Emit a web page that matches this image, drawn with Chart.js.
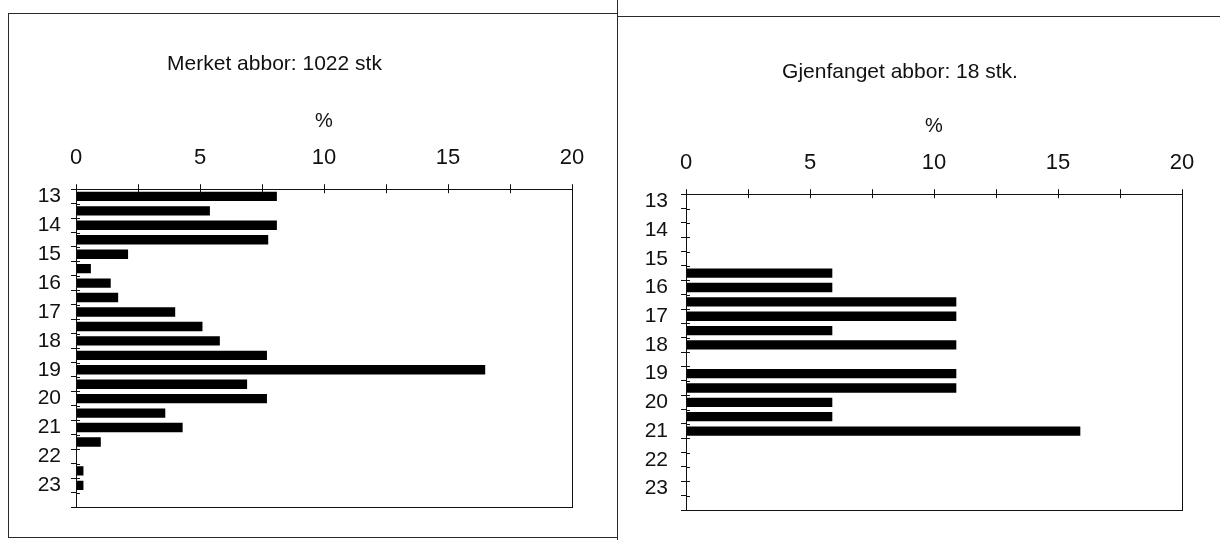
<!DOCTYPE html>
<html>
<head>
<meta charset="utf-8">
<script src="https://cdn.jsdelivr.net/npm/chart.js@4.4.1/dist/chart.umd.min.js"></script>
<style>
  body { margin: 0; background: #fff; width: 1220px; height: 540px; position: relative; overflow: hidden; }
  .line { position: absolute; background: #2a2a2a; }
  #boxLeft { position: absolute; left: 8px; top: 13px; width: 609px; height: 525px; box-sizing: border-box;
             border-left: 1px solid #2a2a2a; border-top: 1px solid #2a2a2a; border-bottom: 1px solid #2a2a2a; }
  canvas { position: absolute; }
  #chartLeft { left: -23px; top: 14px; }
  #chartRight { left: 618px; top: 17px; }
</style>
</head>
<body>
<div id="boxLeft"></div>
<div class="line" style="left:617px; top:0; width:1px; height:540px;"></div>
<div class="line" style="left:617px; top:16px; width:603px; height:1px;"></div>

<canvas id="chartLeft" width="639" height="523"></canvas>
<canvas id="chartRight" width="602" height="523"></canvas>

<script>
// lengdeklasser (cm), en stolpe per halve cm
const lengdeKlasser = [13, 13.5, 14, 14.5, 15, 15.5, 16, 16.5, 17, 17.5, 18, 18.5,
                       19, 19.5, 20, 20.5, 21, 21.5, 22, 22.5, 23, 23.5];
const yTickLabels = ['13', '', '14', '', '15', '', '16', '', '17', '', '18', '',
                     '19', '', '20', '', '21', '', '22', '', '23', ''];

// prosent av fisken i hver klasse
const merketProsent = [8.1, 5.4, 8.1, 7.75, 2.1, 0.6, 1.4, 1.7, 4.0, 5.1, 5.8, 7.7,
                       16.5, 6.9, 7.7, 3.6, 4.3, 1.0, 0, 0.3, 0.3, 0];
const gjenfangetProsent = [0, 0, 0, 0, 0, 5.9, 5.9, 10.9, 10.9, 5.9, 10.9, 0,
                           10.9, 10.9, 5.9, 5.9, 15.9, 0, 0, 0, 0, 0];

const xTickLabels = [0, 5, 10, 15, 20];

const fontFamily = "'Liberation Sans', Arial, sans-serif";

// ramme rundt plottet + de små tikkene som går inn i plottet (som i Excel)
const rammePlugin = {
  id: 'ramme',
  afterDraw(chart) {
    const { ctx, chartArea: a, scales } = chart;
    ctx.save();
    ctx.strokeStyle = '#111';
    ctx.lineWidth = 1;
    ctx.strokeRect(Math.round(a.left) + 0.5, Math.round(a.top) + 0.5,
                   Math.round(a.right - a.left), Math.round(a.bottom - a.top));

    ctx.beginPath();
    const y = scales.y;
    const n = y.ticks.length;
    for (let i = 0; i <= n; i++) {
      const py = Math.round(y.top + i * (y.bottom - y.top) / n) + 0.5;
      ctx.moveTo(a.left, py);
      ctx.lineTo(a.left + 4, py);
    }
    const x = scales.x;
    x.ticks.forEach(t => {
      const px = Math.round(x.getPixelForValue(t.value)) + 0.5;
      ctx.moveTo(px, a.top);
      ctx.lineTo(px, a.top + 4);
    });
    ctx.stroke();
    ctx.restore();
  }
};

function lagFigur(id, tittel, verdier, oppsett) {
  const ctx = document.getElementById(id);
  return new Chart(ctx, {
    type: 'bar',
    data: {
      labels: lengdeKlasser,
      datasets: [{
        label: tittel,
        data: verdier,
        backgroundColor: '#000',
        borderWidth: 0,
        barPercentage: 0.65,
        categoryPercentage: 1
      }]
    },
    plugins: [rammePlugin],
    options: {
      indexAxis: 'y',
      responsive: false,
      animation: false,
      layout: {
        padding: { left: 0, right: oppsett.hoyre, top: 0, bottom: oppsett.bunn }
      },
      plugins: {
        legend: { display: false },
        tooltip: { enabled: false },
        title: {
          display: true,
          text: tittel,
          color: '#111',
          font: { family: fontFamily, size: 21, weight: 'normal', lineHeight: 1.2 },
          padding: { top: oppsett.tittelTopp, bottom: 0 }
        }
      },
      scales: {
        x: {
          position: 'top',
          min: 0,
          max: 20,
          afterFit: (s) => { s.height = oppsett.xHoyde; },
          border: { display: true, color: '#111', width: 1 },
          grid: { drawOnChartArea: false, drawTicks: true, tickLength: 5, color: '#111' },
          ticks: {
            stepSize: 2.5,
            padding: 13,
            color: '#111',
            font: { family: fontFamily, size: 22 },
            callback: (v) => xTickLabels.includes(v) ? String(v) : ''
          },
          title: {
            display: true,
            text: '%',
            color: '#111',
            font: { family: fontFamily, size: 20, lineHeight: 1.2 },
            padding: { top: oppsett.prosentTopp, bottom: 0 }
          }
        },
        y: {
          afterFit: (s) => { s.width = oppsett.yBredde; },
          border: { display: true, color: '#111', width: 1 },
          grid: { offset: true, drawOnChartArea: false, drawTicks: true, tickLength: 5, color: '#111' },
          ticks: {
            autoSkip: false,
            padding: oppsett.yPadding,
            color: '#111',
            font: { family: fontFamily, size: 21 },
            callback: (v, i) => yTickLabels[i]
          }
        }
      }
    }
  });
}

lagFigur('chartLeft', 'Merket abbor: 1022 stk', merketProsent,
  { hoyre: 44, bunn: 30, tittelTopp: 38, xHoyde: 112, prosentTopp: 32, yBredde: 99, yPadding: 10 });

lagFigur('chartRight', 'Gjenfanget abbor: 18 stk.', gjenfangetProsent,
  { hoyre: 38, bunn: 30, tittelTopp: 43, xHoyde: 109, prosentTopp: 29, yBredde: 68, yPadding: 13 });
</script>
</body>
</html>
